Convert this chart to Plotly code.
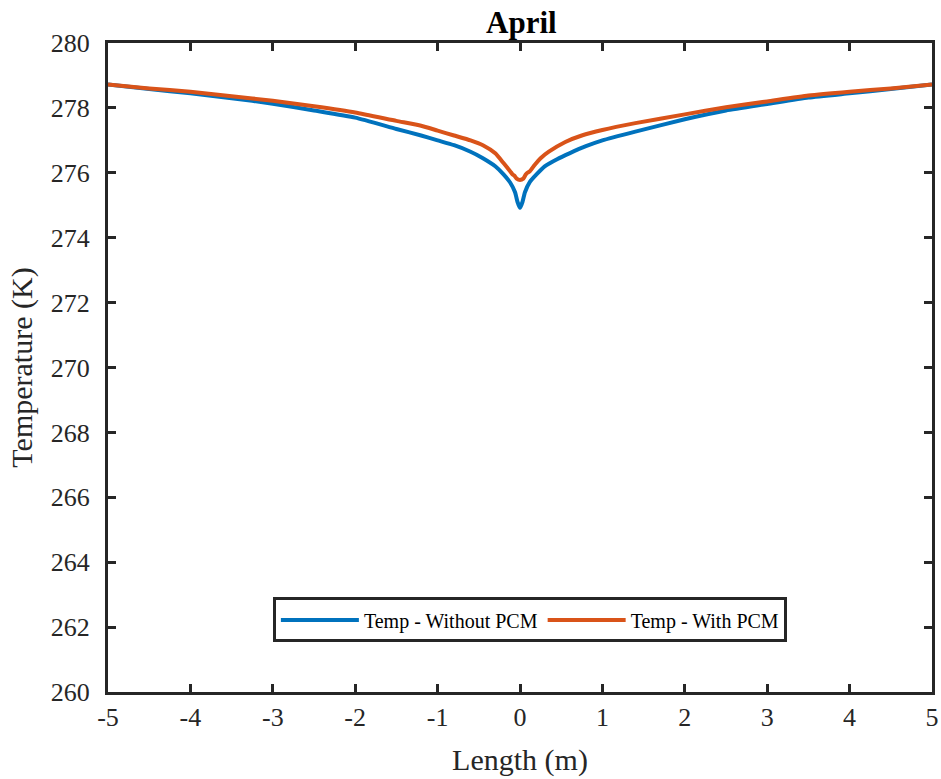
import plotly.graph_objects as go

# Temperature along the length, April
length_m = [-5, -4.5, -4, -3.5, -3, -2.5, -2, -1.5, -1.2, -1, -0.8, -0.6, -0.45, -0.3, -0.2,
            -0.12, -0.09, -0.07, -0.04, 0, 0.04, 0.07, 0.09, 0.12, 0.18, 0.25, 0.35, 0.55,
            0.75, 1, 1.4, 2, 2.5, 3, 3.5, 4, 4.5, 5]
temp_with_pcm = [278.72, 278.6, 278.5, 278.36, 278.22, 278.05, 277.86, 277.6, 277.45, 277.3,
                 277.15, 277.0, 276.85, 276.6, 276.3, 276.05, 275.95, 275.92, 275.82, 275.78,
                 275.82, 275.95, 276.0, 276.05, 276.25, 276.45, 276.65, 276.95, 277.15, 277.32,
                 277.53, 277.8, 278.02, 278.2, 278.38, 278.5, 278.6, 278.72]

length_m_b = [-5, -4.5, -4, -3.5, -3, -2.5, -2, -1.5, -1.2, -1, -0.8, -0.6, -0.45, -0.3, -0.2,
              -0.12, -0.06, -0.03, 0, 0.03, 0.06, 0.12, 0.2, 0.3, 0.45, 0.6, 0.8, 1, 1.4, 2,
              2.5, 3, 3.5, 4, 4.5, 5]
temp_without_pcm = [278.72, 278.58, 278.45, 278.3, 278.13, 277.92, 277.7, 277.35, 277.15, 277.0,
                    276.85, 276.65, 276.45, 276.2, 275.95, 275.7, 275.4, 275.1, 274.92, 275.1,
                    275.4, 275.72, 275.95, 276.2, 276.42, 276.6, 276.82, 277.0, 277.27, 277.65,
                    277.92, 278.12, 278.32, 278.45, 278.58, 278.72]

x_ticks = [-5, -4, -3, -2, -1, 0, 1, 2, 3, 4, 5]
y_ticks = [260, 262, 264, 266, 268, 270, 272, 274, 276, 278, 280]

FONT = "Liberation Serif, Times New Roman, serif"
AX = "#262626"

fig = go.Figure()
fig.add_trace(go.Scatter(x=length_m_b, y=temp_without_pcm, mode="lines",
                         name="Temp - Without PCM",
                         line=dict(color="#0072BD", width=4, shape="spline", smoothing=0.5)))
fig.add_trace(go.Scatter(x=length_m, y=temp_with_pcm, mode="lines",
                         name="Temp - With PCM",
                         line=dict(color="#D95319", width=4, shape="spline", smoothing=0.5)))

axis_common = dict(showgrid=False, zeroline=False, showline=True, linecolor=AX, linewidth=3,
                   mirror="ticks", ticks="inside", ticklen=8, tickwidth=3, tickcolor=AX,
                   automargin=False,
                   tickfont=dict(family=FONT, size=26, color=AX))

fig.update_xaxes(range=[-5, 5], tickvals=x_ticks, ticktext=[str(v) for v in x_ticks],
                 title=dict(text="Length (m)", font=dict(family=FONT, size=30, color=AX),
                            standoff=18),
                 **axis_common)
fig.update_yaxes(range=[260, 280], tickvals=y_ticks, ticktext=[str(v) for v in y_ticks],
                 ticklabelstandoff=10,
                 title=dict(text="Temperature (K)", font=dict(family=FONT, size=30, color=AX),
                            standoff=10),
                 **axis_common)

fig.update_layout(
    width=941, height=779,
    margin=dict(l=108, r=9, t=43, b=87),
    plot_bgcolor="white", paper_bgcolor="white",
    title=dict(text="<b>April</b>", x=0.554, xanchor="center", y=1 - 22 / 779,
               yanchor="middle", font=dict(family=FONT, size=31, color="black")),
    legend=dict(orientation="h", x=0.512, y=0.111, xanchor="center", yanchor="middle",
                bgcolor="white", bordercolor=AX, borderwidth=3,
                font=dict(family=FONT, size=20, color="black"),
                itemwidth=78, tracegroupgap=0),
    showlegend=True,
)

fig.write_html("out.html")
